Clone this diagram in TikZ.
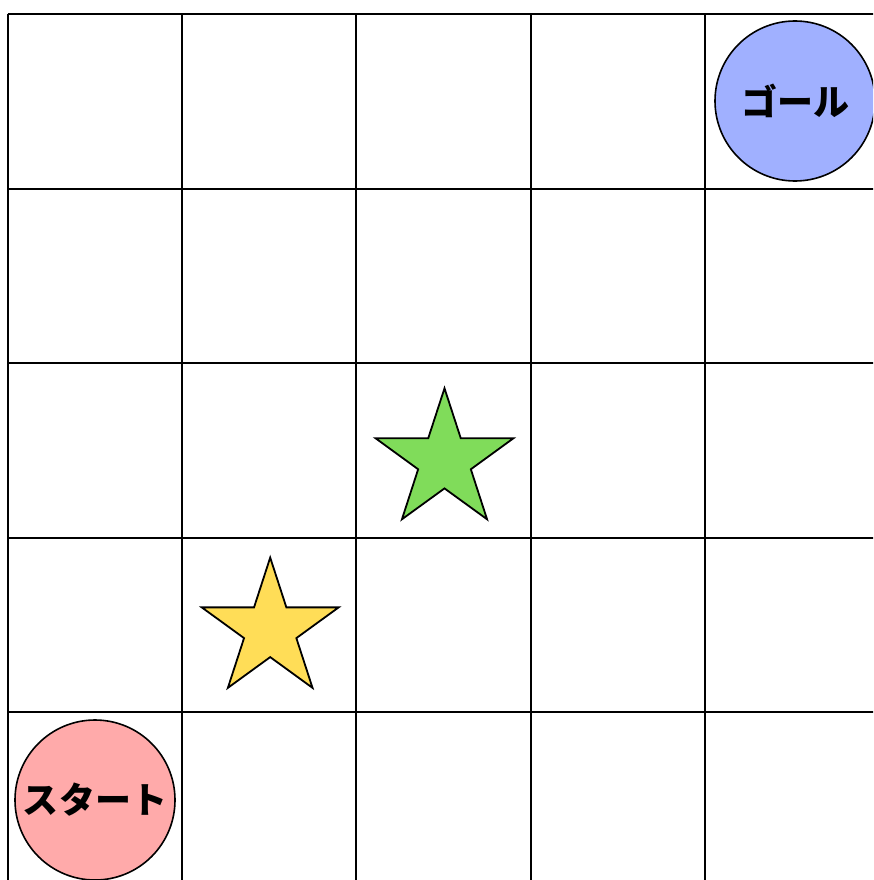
\documentclass[tikz,border=0pt]{standalone}
\usepackage{fontspec}
\newfontfamily\jp{Noto Sans CJK JP}
\definecolor{goalblue}{RGB}{160,176,255}
\definecolor{startpink}{RGB}{255,170,170}
\definecolor{stargreen}{RGB}{128,220,90}
\definecolor{staryellow}{RGB}{255,221,87}
\begin{document}
\begin{tikzpicture}[x=1pt,y=-1pt,
  gridline/.style={line width=2pt,black},
  marker/.style={circle,draw=black,line width=1.6pt,minimum size=160pt,inner sep=0pt,
    font=\jp\bfseries\fontsize{36}{40}\selectfont},
  starshape/.style={draw=black,line width=1.8pt,line join=miter}]
\useasboundingbox (0,0) rectangle (873,880);
\clip (0,0) rectangle (873,880);
\fill[white] (0,0) rectangle (873,880);
% grid
\foreach \i in {0,...,5} {
  \draw[gridline] (7.6+174.3*\i,14) -- (7.6+174.3*\i,887);
  \draw[gridline] (7.6,14+174.5*\i) -- (880,14+174.5*\i);
}
% goal and start
\node[marker,fill=goalblue] (goal) at (795,101) {\raisebox{2pt}{ゴール}};
\node[marker,fill=startpink] (start) at (95,800) {\raisebox{2pt}{スタート}};
% stars
\draw[starshape,fill=stargreen]
  plot[samples at={0,...,9}] ({444.5+(mod(\x,2)==0 ? 72.4 : 27.7)*cos(90+36*\x)},
                              {460.7-(mod(\x,2)==0 ? 72.4 : 27.7)*sin(90+36*\x)}) -- cycle;
\draw[starshape,fill=staryellow]
  plot[samples at={0,...,9}] ({270.2+(mod(\x,2)==0 ? 72 : 27.5)*cos(90+36*\x)},
                              {629.6-(mod(\x,2)==0 ? 72 : 27.5)*sin(90+36*\x)}) -- cycle;
\end{tikzpicture}
\end{document}
